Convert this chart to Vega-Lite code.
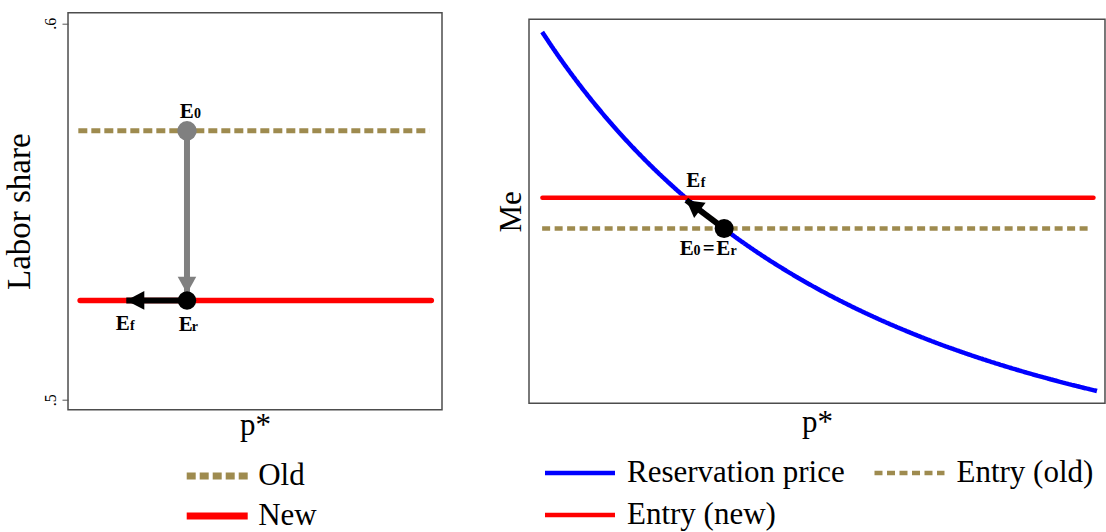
{
  "$schema": "https://vega.github.io/schema/vega-lite/v6.json",
  "background": "white",
  "padding": {"left": 2, "top": 11.7, "right": 0, "bottom": 0},
  "config": {
    "view": {"stroke": "#4d4d4d", "strokeWidth": 1.5},
    "font": "Liberation Serif",
    "axis": {"grid": false, "titleFont": "Liberation Serif", "titleFontSize": 31, "titleFontWeight": "normal", "titleColor": "#000000", "labelFont": "Liberation Serif", "labelColor": "#000000"},
    "legend": {"labelFont": "Liberation Serif", "labelColor": "#000000", "labelFontSize": 31, "labelLimit": 600, "padding": 0, "symbolType": "stroke"},
    "title": {"font": "Liberation Serif"}
  },
  "datasets": {
    "left_lines": [
      {"series": "Old", "x": 0.0017, "y": 0.57144},
      {"series": "Old", "x": 0.989, "y": 0.57144},
      {"series": "New", "x": 0.0068, "y": 0.52636},
      {"series": "New", "x": 0.9944, "y": 0.52636}
    ],
    "left_arrows": [
      {"id": "E0 to Er", "x": 0.3073, "y": 0.57144, "x2": 0.3073, "y2": 0.52824},
      {"id": "Er to Ef", "x": 0.3073, "y": 0.52636, "x2": 0.1366, "y2": 0.52636}
    ],
    "left_points": [
      {"id": "E0", "x": 0.3073, "y": 0.57144, "main": "E", "sub": "0"},
      {"id": "Er", "x": 0.3073, "y": 0.52636, "main": "E", "sub": "r"},
      {"id": "Ef", "x": 0.1366, "y": 0.52636, "main": "E", "sub": "f"}
    ],
    "right_lines": [
      {"series": "Reservation price", "x": 0.0228, "y": 0.967},
      {"series": "Reservation price", "x": 0.05, "y": 0.9066},
      {"series": "Reservation price", "x": 0.10, "y": 0.8056},
      {"series": "Reservation price", "x": 0.15, "y": 0.7160},
      {"series": "Reservation price", "x": 0.20, "y": 0.6360},
      {"series": "Reservation price", "x": 0.25, "y": 0.5644},
      {"series": "Reservation price", "x": 0.30, "y": 0.5000},
      {"series": "Reservation price", "x": 0.35, "y": 0.4420},
      {"series": "Reservation price", "x": 0.40, "y": 0.3896},
      {"series": "Reservation price", "x": 0.45, "y": 0.3421},
      {"series": "Reservation price", "x": 0.50, "y": 0.2990},
      {"series": "Reservation price", "x": 0.55, "y": 0.2598},
      {"series": "Reservation price", "x": 0.60, "y": 0.2240},
      {"series": "Reservation price", "x": 0.65, "y": 0.1914},
      {"series": "Reservation price", "x": 0.70, "y": 0.1615},
      {"series": "Reservation price", "x": 0.75, "y": 0.1342},
      {"series": "Reservation price", "x": 0.80, "y": 0.1091},
      {"series": "Reservation price", "x": 0.85, "y": 0.0860},
      {"series": "Reservation price", "x": 0.90, "y": 0.0648},
      {"series": "Reservation price", "x": 0.95, "y": 0.0452},
      {"series": "Reservation price", "x": 0.986, "y": 0.0320},
      {"series": "Entry (old)", "x": 0.0228, "y": 0.455},
      {"series": "Entry (old)", "x": 0.977, "y": 0.455},
      {"series": "Entry (new)", "x": 0.0233, "y": 0.535},
      {"series": "Entry (new)", "x": 0.980, "y": 0.535}
    ],
    "right_arrows": [
      {"id": "E0 to Ef", "x": 0.3388, "y": 0.455, "x2": 0.2731, "y2": 0.529}
    ],
    "right_points": [
      {"id": "Ef", "x": 0.2731, "y": 0.529, "main": "E", "sub": "f"},
      {"id": "E0=Er", "x": 0.3388, "y": 0.455, "main": "E", "sub": "0", "eq": "=", "main2": "E", "sub2": "r"}
    ]
  },
  "spacing": 50,
  "resolve": {
    "scale": {"color": "independent", "strokeDash": "independent"},
    "legend": {"color": "independent", "strokeDash": "independent"}
  },
  "hconcat": [
    {
      "width": 374,
      "height": 397,
      "layer": [
        {
          "data": {"name": "left_lines"},
          "transform": [{"filter": "datum.series == 'Old'"}],
          "mark": {"type": "line", "strokeWidth": 5, "strokeCap": "butt"},
          "encoding": {
            "x": {"field": "x", "type": "quantitative", "title": "p*",
              "scale": {"domain": [-0.0273, 1.0245], "nice": false, "zero": false},
              "axis": {"labels": false, "ticks": false, "domain": false, "titlePadding": 24.4, "titleBaseline": "alphabetic"}},
            "y": {"field": "y", "type": "quantitative", "title": "Labor share",
              "scale": {"domain": [0.49734, 0.60282], "nice": false, "zero": false},
              "axis": {"values": [0.5, 0.6], "format": ".1f", "labelExpr": "substring(datum.label, 1)", "labelAngle": -90, "labelAlign": "center", "labelBaseline": "alphabetic", "labelFontSize": 16, "labelPadding": 6.5, "tickSize": 6, "tickColor": "#555555", "domain": false, "titlePadding": 13.5, "titleFontSize": 33, "titleBaseline": "alphabetic"}},
            "color": {"field": "series", "type": "nominal",
              "scale": {"domain": ["Old", "New"], "range": ["#9E8B4F", "#FF0000"]},
              "legend": {"title": null, "orient": "none", "legendX": 115.2, "legendY": 448.3, "columns": 1, "clipHeight": 30, "rowPadding": 9, "symbolSize": 3721, "labelOffset": 7,
                "encode": {"symbols": {"update": {"strokeWidth": {"value": 7}}}}}},
            "strokeDash": {"field": "series", "type": "nominal",
              "scale": {"domain": ["Old", "New"], "range": [[9, 4], [1, 0]]}}
          }
        },
        {
          "data": {"name": "left_arrows"},
          "transform": [{"filter": "datum.id == 'E0 to Er'"}],
          "mark": {"type": "rule", "color": "#808080", "strokeWidth": 6, "strokeCap": "butt"},
          "encoding": {
            "x": {"field": "x", "type": "quantitative", "title": "p*"},
            "y": {"field": "y", "type": "quantitative", "title": "Labor share"},
            "x2": {"field": "x2"},
            "y2": {"field": "y2"}
          }
        },
        {
          "data": {"name": "left_points"},
          "transform": [{"filter": "datum.id == 'E0'"}],
          "mark": {"type": "point", "shape": "circle", "filled": true, "color": "#808080", "opacity": 1, "size": 380, "strokeWidth": 0},
          "encoding": {
            "x": {"field": "x", "type": "quantitative", "title": "p*"},
            "y": {"field": "y", "type": "quantitative", "title": "Labor share"}
          }
        },
        {
          "data": {"name": "left_arrows"},
          "transform": [{"filter": "datum.id == 'E0 to Er'"}],
          "mark": {"type": "point", "shape": "M0,0L0.56,1L-0.56,1Z", "filled": true, "color": "#808080", "opacity": 1, "size": 1100, "strokeWidth": 0, "angle": 180},
          "encoding": {
            "x": {"field": "x2", "type": "quantitative", "title": "p*"},
            "y": {"field": "y2", "type": "quantitative", "title": "Labor share"}
          }
        },
        {
          "data": {"name": "left_lines"},
          "transform": [{"filter": "datum.series == 'New'"}],
          "mark": {"type": "line", "strokeWidth": 5.5, "strokeCap": "round", "color": "#FF0000"},
          "encoding": {
            "x": {"field": "x", "type": "quantitative", "title": "p*"},
            "y": {"field": "y", "type": "quantitative", "title": "Labor share"}
          }
        },
        {
          "data": {"name": "left_arrows"},
          "transform": [{"filter": "datum.id == 'Er to Ef'"}],
          "mark": {"type": "rule", "color": "#000000", "strokeWidth": 6, "strokeCap": "butt"},
          "encoding": {
            "x": {"field": "x", "type": "quantitative", "title": "p*"},
            "y": {"field": "y", "type": "quantitative", "title": "Labor share"},
            "x2": {"field": "x2"},
            "y2": {"field": "y2"}
          }
        },
        {
          "data": {"name": "left_arrows"},
          "transform": [{"filter": "datum.id == 'Er to Ef'"}],
          "mark": {"type": "point", "shape": "M0,0L0.52,1L-0.52,1Z", "filled": true, "color": "#000000", "opacity": 1, "size": 1296, "strokeWidth": 0, "angle": 270},
          "encoding": {
            "x": {"field": "x2", "type": "quantitative", "title": "p*"},
            "y": {"field": "y2", "type": "quantitative", "title": "Labor share"}
          }
        },
        {
          "data": {"name": "left_points"},
          "transform": [{"filter": "datum.id == 'Er'"}],
          "mark": {"type": "point", "shape": "circle", "filled": true, "color": "#000000", "opacity": 1, "size": 340, "strokeWidth": 0},
          "encoding": {
            "x": {"field": "x", "type": "quantitative", "title": "p*"},
            "y": {"field": "y", "type": "quantitative", "title": "Labor share"}
          }
        },
        {
          "data": {"name": "left_points"},
          "transform": [{"filter": "datum.id == 'E0'"}],
          "mark": {"type": "text", "align": "left", "baseline": "alphabetic", "dx": -7.3, "dy": -13.2, "font": "Liberation Serif", "fontSize": 21, "fontWeight": "bold", "color": "#000000"},
          "encoding": {
            "x": {"field": "x", "type": "quantitative", "title": "p*"},
            "y": {"field": "y", "type": "quantitative", "title": "Labor share"},
            "text": {"field": "main"}
          }
        },
        {
          "data": {"name": "left_points"},
          "transform": [{"filter": "datum.id == 'E0'"}],
          "mark": {"type": "text", "align": "left", "baseline": "alphabetic", "dx": 7, "dy": -13.2, "font": "Liberation Serif", "fontSize": 14, "fontWeight": "bold", "color": "#000000"},
          "encoding": {
            "x": {"field": "x", "type": "quantitative", "title": "p*"},
            "y": {"field": "y", "type": "quantitative", "title": "Labor share"},
            "text": {"field": "sub"}
          }
        },
        {
          "data": {"name": "left_points"},
          "transform": [{"filter": "datum.id == 'Er'"}],
          "mark": {"type": "text", "align": "left", "baseline": "alphabetic", "dx": -8.3, "dy": 30.1, "font": "Liberation Serif", "fontSize": 21, "fontWeight": "bold", "color": "#000000"},
          "encoding": {
            "x": {"field": "x", "type": "quantitative", "title": "p*"},
            "y": {"field": "y", "type": "quantitative", "title": "Labor share"},
            "text": {"field": "main"}
          }
        },
        {
          "data": {"name": "left_points"},
          "transform": [{"filter": "datum.id == 'Er'"}],
          "mark": {"type": "text", "align": "left", "baseline": "alphabetic", "dx": 4.8, "dy": 30.1, "font": "Liberation Serif", "fontSize": 14, "fontWeight": "bold", "color": "#000000"},
          "encoding": {
            "x": {"field": "x", "type": "quantitative", "title": "p*"},
            "y": {"field": "y", "type": "quantitative", "title": "Labor share"},
            "text": {"field": "sub"}
          }
        },
        {
          "data": {"name": "left_points"},
          "transform": [{"filter": "datum.id == 'Ef'"}],
          "mark": {"type": "text", "align": "left", "baseline": "alphabetic", "dx": -10.6, "dy": 29.4, "font": "Liberation Serif", "fontSize": 21, "fontWeight": "bold", "color": "#000000"},
          "encoding": {
            "x": {"field": "x", "type": "quantitative", "title": "p*"},
            "y": {"field": "y", "type": "quantitative", "title": "Labor share"},
            "text": {"field": "main"}
          }
        },
        {
          "data": {"name": "left_points"},
          "transform": [{"filter": "datum.id == 'Ef'"}],
          "mark": {"type": "text", "align": "left", "baseline": "alphabetic", "dx": 3.6, "dy": 29.4, "font": "Liberation Serif", "fontSize": 14, "fontWeight": "bold", "color": "#000000"},
          "encoding": {
            "x": {"field": "x", "type": "quantitative", "title": "p*"},
            "y": {"field": "y", "type": "quantitative", "title": "Labor share"},
            "text": {"field": "sub"}
          }
        }
      ]
    },
    {
      "spacing": 4.6,
      "resolve": {
        "scale": {"color": "independent", "strokeDash": "independent"},
        "legend": {"color": "independent", "strokeDash": "independent"}
      },
      "vconcat": [
        {
          "width": 576,
          "height": 1,
          "view": {"stroke": null},
          "data": {"values": []},
          "mark": "point"
        },
        {
          "width": 576,
          "height": 384,
          "layer": [
            {
              "data": {"name": "right_lines"},
              "transform": [{"filter": "datum.series == 'Reservation price'"}],
              "mark": {"type": "line", "strokeWidth": 4.5, "strokeCap": "butt", "interpolate": "monotone"},
              "encoding": {
                "x": {"field": "x", "type": "quantitative", "title": "p*",
                  "scale": {"domain": [0, 1], "nice": false, "zero": false},
                  "axis": {"labels": false, "ticks": false, "domain": false, "titlePadding": 27.8, "titleBaseline": "alphabetic"}},
                "y": {"field": "y", "type": "quantitative", "title": "Me",
                  "scale": {"domain": [0, 1], "nice": false, "zero": false},
                  "axis": {"labels": false, "ticks": false, "domain": false, "titlePadding": 9, "titleBaseline": "alphabetic"}},
                "color": {"field": "series", "type": "nominal",
                  "scale": {"domain": ["Reservation price", "Entry (new)", "Entry (old)"], "range": ["#0000FF", "#FF0000", "#9E8B4F"]},
                  "legend": {"title": null, "orient": "none", "legendX": 13.5, "legendY": 438.7, "columns": 2, "columnPadding": 26.5, "clipHeight": 30, "rowPadding": 11, "symbolSize": 4900, "labelOffset": 9.5,
                    "encode": {"symbols": {"update": {"strokeWidth": {"value": 4.5}}}}}},
                "strokeDash": {"field": "series", "type": "nominal",
                  "scale": {"domain": ["Reservation price", "Entry (new)", "Entry (old)"], "range": [[1, 0], [1, 0], [8, 4.5]]}}
              }
            },
            {
              "data": {"name": "right_lines"},
              "transform": [{"filter": "datum.series == 'Entry (old)'"}],
              "mark": {"type": "line", "strokeWidth": 4.5, "strokeCap": "butt", "strokeDash": [8, 4.5], "color": "#9E8B4F"},
              "encoding": {
                "x": {"field": "x", "type": "quantitative", "title": "p*"},
                "y": {"field": "y", "type": "quantitative", "title": "Me"}
              }
            },
            {
              "data": {"name": "right_lines"},
              "transform": [{"filter": "datum.series == 'Entry (new)'"}],
              "mark": {"type": "line", "strokeWidth": 4.5, "strokeCap": "round", "color": "#FF0000"},
              "encoding": {
                "x": {"field": "x", "type": "quantitative", "title": "p*"},
                "y": {"field": "y", "type": "quantitative", "title": "Me"}
              }
            },
            {
              "data": {"name": "right_arrows"},
              "mark": {"type": "rule", "color": "#000000", "strokeWidth": 6, "strokeCap": "butt"},
              "encoding": {
                "x": {"field": "x", "type": "quantitative", "title": "p*"},
                "y": {"field": "y", "type": "quantitative", "title": "Me"},
                "x2": {"field": "x2"},
                "y2": {"field": "y2"}
              }
            },
            {
              "data": {"name": "right_arrows"},
              "mark": {"type": "point", "shape": "M0,0L0.56,1L-0.56,1Z", "filled": true, "color": "#000000", "opacity": 1, "size": 1156, "strokeWidth": 0, "angle": 307},
              "encoding": {
                "x": {"field": "x2", "type": "quantitative", "title": "p*"},
                "y": {"field": "y2", "type": "quantitative", "title": "Me"}
              }
            },
            {
              "data": {"name": "right_points"},
              "transform": [{"filter": "datum.id == 'E0=Er'"}],
              "mark": {"type": "point", "shape": "circle", "filled": true, "color": "#000000", "opacity": 1, "size": 361, "strokeWidth": 0},
              "encoding": {
                "x": {"field": "x", "type": "quantitative", "title": "p*"},
                "y": {"field": "y", "type": "quantitative", "title": "Me"}
              }
            },
            {
              "data": {"name": "right_points"},
              "transform": [{"filter": "datum.id == 'Ef'"}],
              "mark": {"type": "text", "align": "left", "baseline": "alphabetic", "dx": 0, "dy": -12.7, "font": "Liberation Serif", "fontSize": 21, "fontWeight": "bold", "color": "#000000"},
              "encoding": {
                "x": {"field": "x", "type": "quantitative", "title": "p*"},
                "y": {"field": "y", "type": "quantitative", "title": "Me"},
                "text": {"field": "main"}
              }
            },
            {
              "data": {"name": "right_points"},
              "transform": [{"filter": "datum.id == 'Ef'"}],
              "mark": {"type": "text", "align": "left", "baseline": "alphabetic", "dx": 14.4, "dy": -12.7, "font": "Liberation Serif", "fontSize": 14, "fontWeight": "bold", "color": "#000000"},
              "encoding": {
                "x": {"field": "x", "type": "quantitative", "title": "p*"},
                "y": {"field": "y", "type": "quantitative", "title": "Me"},
                "text": {"field": "sub"}
              }
            },
            {
              "data": {"name": "right_points"},
              "transform": [{"filter": "datum.id == 'E0=Er'"}],
              "mark": {"type": "text", "align": "left", "baseline": "alphabetic", "dx": -44.5, "dy": 26.6, "font": "Liberation Serif", "fontSize": 21, "fontWeight": "bold", "color": "#000000"},
              "encoding": {
                "x": {"field": "x", "type": "quantitative", "title": "p*"},
                "y": {"field": "y", "type": "quantitative", "title": "Me"},
                "text": {"field": "main"}
              }
            },
            {
              "data": {"name": "right_points"},
              "transform": [{"filter": "datum.id == 'E0=Er'"}],
              "mark": {"type": "text", "align": "left", "baseline": "alphabetic", "dx": -30.6, "dy": 26.6, "font": "Liberation Serif", "fontSize": 14, "fontWeight": "bold", "color": "#000000"},
              "encoding": {
                "x": {"field": "x", "type": "quantitative", "title": "p*"},
                "y": {"field": "y", "type": "quantitative", "title": "Me"},
                "text": {"field": "sub"}
              }
            },
            {
              "data": {"name": "right_points"},
              "transform": [{"filter": "datum.id == 'E0=Er'"}],
              "mark": {"type": "text", "align": "left", "baseline": "alphabetic", "dx": -21.4, "dy": 26.6, "font": "Liberation Serif", "fontSize": 21, "fontWeight": "bold", "color": "#000000"},
              "encoding": {
                "x": {"field": "x", "type": "quantitative", "title": "p*"},
                "y": {"field": "y", "type": "quantitative", "title": "Me"},
                "text": {"field": "eq"}
              }
            },
            {
              "data": {"name": "right_points"},
              "transform": [{"filter": "datum.id == 'E0=Er'"}],
              "mark": {"type": "text", "align": "left", "baseline": "alphabetic", "dx": -7.9, "dy": 26.6, "font": "Liberation Serif", "fontSize": 21, "fontWeight": "bold", "color": "#000000"},
              "encoding": {
                "x": {"field": "x", "type": "quantitative", "title": "p*"},
                "y": {"field": "y", "type": "quantitative", "title": "Me"},
                "text": {"field": "main2"}
              }
            },
            {
              "data": {"name": "right_points"},
              "transform": [{"filter": "datum.id == 'E0=Er'"}],
              "mark": {"type": "text", "align": "left", "baseline": "alphabetic", "dx": 6.4, "dy": 26.6, "font": "Liberation Serif", "fontSize": 14, "fontWeight": "bold", "color": "#000000"},
              "encoding": {
                "x": {"field": "x", "type": "quantitative", "title": "p*"},
                "y": {"field": "y", "type": "quantitative", "title": "Me"},
                "text": {"field": "sub2"}
              }
            }
          ]
        }
      ]
    }
  ]
}
